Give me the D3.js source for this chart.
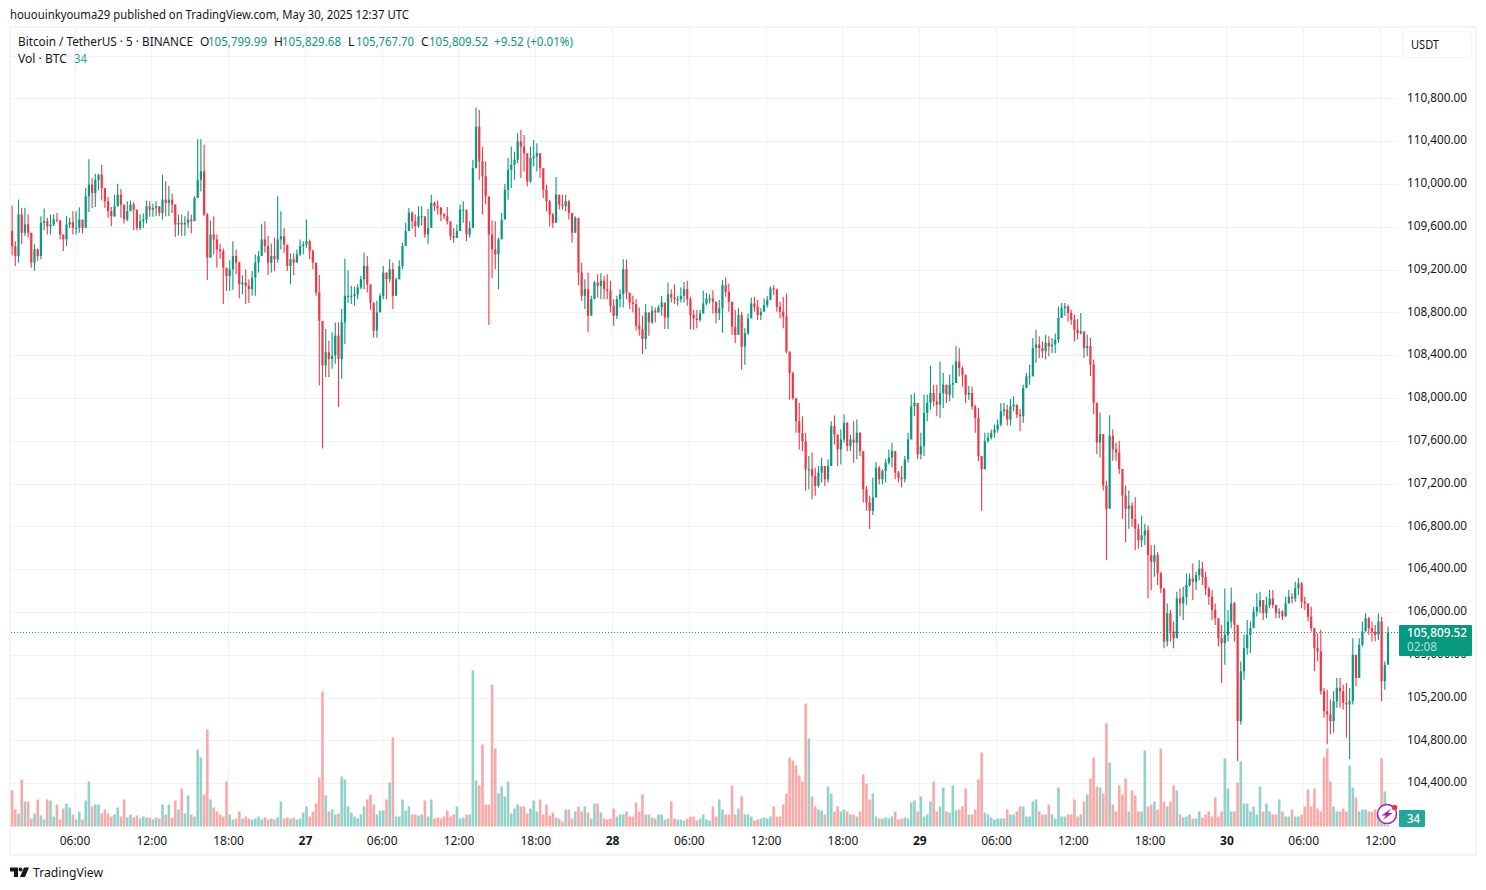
<!DOCTYPE html>
<html><head><meta charset="utf-8">
<script src="https://cdnjs.cloudflare.com/ajax/libs/d3/7.8.5/d3.min.js"></script>
<style>
html,body{margin:0;padding:0;background:#fff;overflow:hidden}
svg{display:block}
text{font-family:"Noto Sans",sans-serif;font-size:12px;fill:#131722}
</style></head><body>
<svg id="c" width="1486" height="890"></svg>
<script>
// 15-minute candles, from 26 May 2025 01:00 UTC. Each line: one 6-hour session.
const startTime = "2025-05-26T01:00:00Z";
const stepMinutes = 15;
const closes = [
109420,109327,109715,109544,109622,109544,109265,109389,109327,109637,109652,109606,109622,109668,109662,109528,109482,109622,109643,109590,
109590,109668,109590,109885,109994,109916,110040,110087,109962,109838,109746,109699,109792,109900,109808,109668,109746,109808,109761,109590,109652,109668,109792,109761,
109777,109792,109730,109854,109823,109854,109808,109622,109637,109622,109637,109668,109652,109870,110040,110118,109715,109312,109528,109482,109389,109373,109218,109141,
109203,109327,109265,109063,109079,109048,109017,109126,109265,109327,109482,109420,109265,109327,109296,109482,109513,109435,109234,109296,109265,109342,109420,109435,
109466,109373,109265,108986,108722,108304,108428,108366,108397,108583,108366,108707,108955,108955,108955,108970,109032,109110,109234,109063,108893,108630,108800,108955,
109172,109110,109203,108955,109110,109234,109420,109560,109730,109652,109606,109699,109699,109528,109590,109823,109792,109777,109715,109699,109652,109513,109497,109560,
109761,109761,109528,109590,110148,110536,110210,110071,109885,109528,109389,109342,109482,109668,109947,110133,110180,110226,110397,110350,110288,110025,110242,110257,
110288,110148,109947,109838,109715,109637,109900,109808,109792,109838,109730,109544,109684,109172,108955,109017,108769,108924,109079,109048,109095,109017,109002,108862,
108769,108924,108970,109203,108986,108893,108878,108676,108645,108552,108800,108707,108816,108800,108847,108893,108754,108970,108940,108924,108924,108955,109017,108924,
108775,108744,108729,108791,108884,108930,108930,108900,108791,108838,109054,108992,108900,108667,108590,108775,108481,108605,108744,108884,108853,108775,108806,108869,
108915,109024,109014,108853,108806,108760,108434,108233,107999,107783,107675,107597,107334,107334,107272,107179,107303,107365,107241,107365,107737,107660,107520,107613,
107768,107551,107613,107582,107675,107504,107148,107024,106946,107070,107349,107241,107319,107396,107443,107504,107303,107257,107241,107427,107613,107923,107954,107474,
107551,107861,107954,108047,107970,107938,108047,108125,108032,108125,108140,108342,108280,108218,108032,108047,107923,107814,107458,107334,107598,107629,107675,107706,
107752,107876,107892,107799,107923,107938,107845,107830,108094,108202,108202,108468,108500,108468,108437,108515,108484,108500,108546,108748,108840,108856,108794,108732,
108639,108608,108623,108468,108484,108313,107957,107585,107663,107182,106965,107647,107523,107492,107337,107089,106965,106996,106872,106779,106670,106717,106763,106531,
106469,106531,106361,106221,105725,105989,105818,105756,106128,106081,106143,106252,106314,106283,106345,106407,106329,106221,106143,106019,105942,105756,105710,105787,
105911,106081,105880,104981,105446,105663,105787,105849,106004,106050,106112,105989,106066,106128,106066,105989,106004,105958,106081,106143,106128,106221,106268,106097,
106081,105957,105849,105663,105632,105260,105074,105043,104981,105167,105291,105260,105151,105136,105167,105601,105384,105694,105818,105942,105849,105818,105787,105911,
105353,105508,105809.52];
const opens = [
109560,109420,109327,109715,109544,109622,109544,109265,109389,109327,109637,109652,109606,109622,109668,109662,109528,109482,109622,109643,
109590,109590,109668,109590,109885,109994,109916,110040,110087,109962,109838,109746,109699,109792,109900,109808,109668,109746,109808,109761,109590,109652,109668,109792,
109761,109777,109792,109730,109854,109823,109854,109808,109622,109637,109622,109637,109668,109652,109870,110040,110118,109715,109312,109528,109482,109389,109373,109218,
109141,109203,109327,109265,109063,109079,109048,109017,109126,109265,109327,109482,109420,109265,109327,109296,109482,109513,109435,109234,109296,109265,109342,109420,
109435,109466,109373,109265,108986,108722,108304,108428,108366,108397,108583,108366,108707,108955,108955,108955,108970,109032,109110,109234,109063,108893,108630,108800,
108955,109172,109110,109203,108955,109110,109234,109420,109560,109730,109652,109606,109699,109699,109528,109590,109823,109792,109777,109715,109699,109652,109513,109497,
109560,109761,109761,109528,109590,110148,110536,110210,110071,109885,109528,109389,109342,109482,109668,109947,110133,110180,110226,110397,110350,110288,110025,110242,
110257,110288,110148,109947,109838,109715,109637,109900,109808,109792,109838,109730,109544,109684,109172,108955,109017,108769,108924,109079,109048,109095,109017,109002,
108862,108769,108924,108970,109203,108986,108893,108878,108676,108645,108552,108800,108707,108816,108800,108847,108893,108754,108970,108940,108924,108924,108955,109017,
108924,108775,108744,108729,108791,108884,108930,108930,108900,108791,108838,109054,108992,108900,108667,108590,108775,108481,108605,108744,108884,108853,108775,108806,
108869,108915,109024,109014,108853,108806,108760,108434,108233,107999,107783,107675,107597,107334,107334,107272,107179,107303,107365,107241,107365,107737,107660,107520,
107613,107768,107551,107613,107582,107675,107504,107148,107024,106946,107070,107349,107241,107319,107396,107443,107504,107303,107257,107241,107427,107613,107923,107954,
107474,107551,107861,107954,108047,107970,107938,108047,108125,108032,108125,108140,108342,108280,108218,108032,108047,107923,107814,107458,107334,107598,107629,107675,
107706,107752,107876,107892,107799,107923,107938,107845,107830,108094,108202,108202,108468,108500,108468,108437,108515,108484,108500,108546,108748,108840,108856,108794,
108732,108639,108608,108623,108468,108484,108313,107957,107585,107663,107182,106965,107647,107523,107492,107337,107089,106965,106996,106872,106779,106670,106717,106763,
106531,106469,106531,106361,106221,105725,105989,105818,105756,106128,106081,106143,106252,106314,106283,106345,106407,106329,106221,106143,106019,105942,105756,105710,
105787,105911,106081,105880,104981,105446,105663,105787,105849,106004,106050,106112,105989,106066,106128,106066,105989,106004,105958,106081,106143,106128,106221,106268,
106097,106081,105957,105849,105663,105632,105260,105074,105043,104981,105167,105291,105260,105151,105136,105167,105601,105384,105694,105818,105942,105849,105818,105787,
105911,105353,105508];
const highs = [
109798,109466,109854,109777,109777,109715,109544,109436,109398,109699,109770,109684,109715,109715,109730,109612,109528,109699,109684,109746,
109742,109783,109606,109962,110232,110056,110096,110096,110180,109953,109879,109786,109900,110003,109953,109715,109838,109845,109829,109668,109715,109724,109845,109838,
109817,109838,109792,110087,110025,109984,109910,109808,109715,109715,109699,109746,109715,109885,110418,110418,110366,109730,109659,109699,109528,109445,109398,109218,
109287,109466,109389,109274,109147,109203,109110,109188,109342,109373,109628,109653,109513,109445,109498,109885,109746,109590,109420,109352,109352,109389,109482,109466,
109668,109482,109389,109265,109150,108397,108645,108536,108614,108707,108707,108831,109302,109194,109048,109042,109063,109141,109358,109327,108955,108862,108909,108977,
109234,109172,109296,109265,109126,109287,109451,109637,109776,109746,109715,109792,109792,109612,109767,109900,109838,109845,109786,109730,109786,109637,109590,109621,
109808,109838,109746,109652,110226,110716,110691,110344,110210,109823,109659,109653,109498,109730,110003,110242,110350,110303,110474,110505,110459,110148,110350,110412,
110381,110273,110102,109994,109854,109730,110065,109900,109900,109900,109854,109653,109699,109575,109265,109110,109172,108955,109095,109156,109166,109141,109156,109095,
108924,108955,109017,109296,109296,108970,108955,108924,108847,108769,108878,108769,108862,108847,108868,108955,108862,109079,109017,109063,108955,109032,109085,109095,
108946,108822,108822,108822,109002,108983,108971,109008,108900,108915,109101,109126,109070,108822,108822,108838,108806,108651,108791,108940,108946,108915,108838,108930,
108952,109045,109055,109024,108900,108946,108977,108434,108248,107970,107954,107830,107675,107458,107489,107349,107365,107443,107365,107427,107784,107836,107613,107706,
107846,107774,107660,107784,107799,107681,107474,107179,107086,107256,107402,107365,107334,107427,107520,107582,107412,107319,107365,107458,107675,108032,108047,107938,
107675,108032,108032,108301,108125,108125,108342,108233,108078,108218,108310,108487,108466,108295,108186,108115,108109,107938,107908,107411,107675,107675,107706,107752,
107799,107954,107954,107938,107991,108016,107938,107898,108124,108233,108310,108561,108639,108577,108530,108592,108577,108561,108602,108856,108887,108887,108872,108825,
108779,108738,108794,108608,108592,108561,108360,107901,107864,107415,107228,107839,107709,107585,107600,107306,107182,107135,107027,107074,106825,106903,106825,106810,
106624,106630,106562,106376,106221,106081,106019,105911,106190,106221,106237,106361,106361,106453,106376,106485,106469,106376,106237,106206,106081,105895,105880,106221,
106019,106227,106097,105874,105539,105787,105927,105911,106050,106175,106190,106066,106143,106206,106206,106066,106035,106019,106143,106206,106175,106283,106320,106283,
106143,106066,106050,105849,105803,105834,105291,105275,105182,105260,105384,105384,105322,105338,105291,105756,105539,105756,105911,105988,105957,105911,105880,105988,
105957,105539,105865];
const lows = [
109333,109234,109265,109436,109513,109498,109218,109188,109281,109296,109569,109528,109528,109606,109643,109482,109373,109420,109590,109528,
109528,109544,109538,109631,109739,109776,109786,109941,109848,109776,109684,109606,109693,109792,109684,109631,109652,109746,109569,109566,109569,109590,109631,109693,
109693,109699,109699,109668,109699,109699,109730,109507,109519,109513,109513,109590,109538,109668,109870,109931,109699,109104,109312,109342,109218,109302,108878,109001,
109001,109011,109156,108933,108970,108878,108887,108955,108955,109172,109373,109358,109150,109172,109188,109265,109389,109358,109188,109063,109147,109296,109327,109342,
109405,109296,109203,108955,108118,107529,108196,108196,108273,108320,107917,108180,108506,108887,108878,108862,108924,109017,109017,108986,108825,108564,108564,108924,
108924,108924,109079,108831,109001,109110,109203,109466,109560,109581,109504,109590,109612,109498,109436,109668,109746,109715,109652,109668,109622,109476,109451,109498,
109590,109637,109466,109498,109590,110148,110040,109715,109808,108682,109119,109203,109017,109513,109730,109854,109962,110040,110195,110056,110118,109978,110009,110164,
110118,110056,109870,109746,109606,109590,109637,109761,109761,109746,109668,109451,109544,109054,108909,108831,108614,108800,108924,108940,108924,108924,108924,108800,
108676,108738,108847,108847,108924,108831,108800,108630,108583,108412,108459,108583,108691,108707,108800,108769,108645,108645,108893,108878,108862,108893,108893,108862,
108642,108636,108651,108714,108791,108868,108884,108791,108698,108729,108611,108946,108806,108590,108512,108651,108264,108310,108590,108791,108806,108729,108729,108806,
108847,108946,108962,108806,108744,108651,108419,107985,107985,107675,107520,107505,107133,107148,107055,107086,107164,107210,107179,107210,107380,107566,107365,107380,
107582,107505,107505,107396,107427,107458,107024,106946,106776,106906,107101,107194,107194,107210,107380,107350,107241,107210,107164,107210,107396,107644,107830,107427,
107427,107458,107784,107892,107923,107830,107814,107908,107954,107970,108000,108171,108202,108109,107954,107985,107892,107675,107411,106946,107505,107582,107613,107629,
107675,107737,107830,107743,107743,107876,107814,107690,107768,108109,108124,108205,108329,108375,108375,108360,108391,108422,108422,108515,108748,108769,108716,108686,
108530,108546,108592,108375,108391,108205,107849,107477,107445,107135,106484,107135,107415,107415,107291,106872,106655,106779,106795,106578,106593,106609,106624,106128,
106206,106329,106252,106175,105663,105678,105725,105663,105911,105958,105927,106066,106236,106112,106206,106298,106252,106159,106066,105927,105880,105678,105337,105508,
105725,105849,105725,104609,104950,105368,105601,105617,105911,105958,105988,105927,105942,106035,106035,105942,105942,105927,105958,106081,106081,106097,106159,106035,
106019,105911,105818,105446,105539,105229,105012,104764,104857,104873,105105,105105,105090,104826,104624,105136,105306,105384,105678,105849,105787,105725,105725,105740,
105167,105273,105523];
const volumes = [
720,340,260,940,500,500,160,260,540,220,140,540,520,200,440,140,360,460,380,240,
140,300,140,520,900,400,440,440,260,340,260,200,240,380,200,540,180,240,180,220,160,200,180,180,
140,180,160,440,240,440,180,520,340,760,260,620,240,200,1540,1380,640,1940,540,380,300,240,200,900,
240,140,160,300,160,200,160,140,160,200,140,180,140,160,140,180,500,160,180,160,180,140,160,280,
400,200,300,460,980,2700,620,300,340,240,260,1000,940,400,280,200,160,240,400,540,640,440,240,320,
320,540,880,1780,200,200,540,320,400,240,240,220,240,520,200,540,160,180,160,200,320,200,240,400,
160,180,240,240,3120,920,820,1640,440,440,2840,1560,660,800,600,900,260,360,440,400,400,260,360,520,
300,540,240,440,220,280,180,160,100,340,340,160,300,400,300,400,280,160,460,460,280,160,140,160,
360,200,240,240,300,200,200,480,300,640,240,240,180,160,240,240,140,160,500,160,140,140,120,160,
200,200,120,160,240,140,120,400,200,540,340,240,240,820,240,360,600,240,240,200,120,140,160,180,
160,200,400,200,200,440,660,1380,1320,1220,1020,900,2460,1760,600,400,340,320,240,800,660,300,400,300,
340,300,240,240,200,300,1040,860,540,660,200,160,160,180,160,200,300,140,160,180,160,480,520,300,
600,200,240,500,900,300,400,780,300,280,820,320,340,400,760,240,240,340,940,1480,280,240,180,140,
160,160,160,340,240,240,300,400,400,200,200,500,540,300,240,240,440,240,160,780,200,200,240,240,
540,200,240,500,640,960,1380,800,780,660,2060,1280,440,300,820,640,960,300,720,620,300,300,1520,400,
440,500,340,1560,500,400,500,820,720,240,180,200,240,160,160,300,180,240,300,200,580,200,300,1360,
760,300,300,880,1300,460,460,300,400,240,800,300,460,300,240,240,540,300,200,200,340,200,200,240,
400,740,400,760,360,300,1380,1560,900,400,300,300,360,300,1220,780,580,300,340,340,300,300,340,300,
1360,700,34];
const priceTicks = [110800,110400,110000,109600,109200,108800,108400,108000,107600,107200,106800,106400,106000,105600,105200,104800,104400];
const gridPrices = [111200].concat(priceTicks);
const timeTicks = ["2025-05-26T06:00Z","2025-05-26T12:00Z","2025-05-26T18:00Z","2025-05-27T00:00Z","2025-05-27T06:00Z","2025-05-27T12:00Z","2025-05-27T18:00Z","2025-05-28T00:00Z","2025-05-28T06:00Z","2025-05-28T12:00Z","2025-05-28T18:00Z","2025-05-29T00:00Z","2025-05-29T06:00Z","2025-05-29T12:00Z","2025-05-29T18:00Z","2025-05-30T00:00Z","2025-05-30T06:00Z","2025-05-30T12:00Z"];
const timeLabels = ["06:00","12:00","18:00","27","06:00","12:00","18:00","28","06:00","12:00","18:00","29","06:00","12:00","18:00","30","06:00","12:00"];
const lastPrice = 105809.52;

const UP="#089981",DOWN="#F23645",VUP="#92d2c9",VDOWN="#f9a9a7",GRID="#f1f2f5",TXT="#131722";
const svg=d3.select("#c");
const t0=new Date(startTime).getTime();
const data=closes.map((c,i)=>({t:new Date(t0+(i+.5)*stepMinutes*60000),o:opens[i],h:highs[i],l:lows[i],c,v:volumes[i]}));
const tickDates=timeTicks.map(s=>new Date(s));
const x=d3.scaleUtc().domain([tickDates[0],tickDates[tickDates.length-1]]).range([74.5,1380]);
const y=d3.scaleLinear().domain([110400,104400]).range([141.2,783.3]);
const yV=d3.scaleLinear().domain([0,3120]).range([826.5,670.5]);

// frame and grid
svg.append("rect").attr("x",10).attr("y",27).attr("width",1466).attr("height",828).attr("fill","none").attr("stroke","#f0f3fa").attr("stroke-width",1.6);
const g=svg.append("g").attr("shape-rendering","crispEdges");
g.selectAll(".h").data(gridPrices).join("line").attr("x1",11).attr("x2",1398).attr("y1",d=>Math.round(y(d))+.5).attr("y2",d=>Math.round(y(d))+.5).attr("stroke",GRID);
g.selectAll(".v").data(tickDates).join("line").attr("y1",28).attr("y2",827).attr("x1",d=>Math.round(x(d))+.5).attr("x2",d=>Math.round(x(d))+.5).attr("stroke",GRID);

// volume
svg.append("g").selectAll("rect").data(data).join("rect")
 .attr("x",d=>x(d.t)-1.3).attr("width",2.6).attr("y",d=>yV(d.v)).attr("height",d=>yV(0)-yV(d.v))
 .attr("fill",d=>d.c>=d.o?VUP:VDOWN);

// last price line
svg.append("line").attr("x1",11).attr("x2",1398).attr("y1",y(lastPrice)).attr("y2",y(lastPrice))
 .attr("stroke",UP).attr("stroke-width",1).attr("stroke-dasharray","1 2");

// candles
const cg=svg.append("g");
cg.selectAll("line").data(data).join("line")
 .attr("x1",d=>x(d.t)).attr("x2",d=>x(d.t)).attr("y1",d=>y(d.h)).attr("y2",d=>y(d.l))
 .attr("stroke",d=>d.c>=d.o?UP:DOWN).attr("stroke-width",1.1);
cg.selectAll("rect").data(data).join("rect")
 .attr("x",d=>x(d.t)-1.1).attr("width",2.2)
 .attr("y",d=>y(Math.max(d.o,d.c))).attr("height",d=>Math.max(1,Math.abs(y(d.o)-y(d.c))))
 .attr("fill",d=>d.c>=d.o?UP:DOWN);

// axes
const ya=svg.append("g").attr("transform","translate(1407,-1.2)")
 .call(d3.axisRight(y).tickValues(priceTicks).tickFormat(d3.format(",.2f")).tickSize(0).tickPadding(0));
ya.select(".domain").remove();
ya.selectAll("text").style("font-family",'"Noto Sans",sans-serif').style("font-size","12px").attr("fill","#1e222d").attr("textLength",60).attr("lengthAdjust","spacingAndGlyphs");
const xa=svg.append("g").attr("transform","translate(0,836.5)")
 .call(d3.axisBottom(x).tickValues(tickDates).tickFormat((d,i)=>timeLabels[i]).tickSize(0).tickPadding(0));
xa.select(".domain").remove();
xa.selectAll("text").style("font-family",'"Noto Sans",sans-serif').style("font-size","12px").attr("fill","#2a2e39")
 .style("font-weight",(d,i)=>timeLabels[i].length<3?"700":"400");

// texts helper
function T(tx,ty,s,o={}){return svg.append("text").attr("x",tx).attr("y",ty).text(s).attr("fill",o.c||TXT).style("fill",o.c||TXT)
  .style("font-weight",o.w||400).style("font-size",(o.s||12)+"px").attr("textLength",o.l||null).attr("lengthAdjust","spacingAndGlyphs");}
T(10,19,"hououinkyouma29 published on TradingView.com, May 30, 2025 12:37 UTC",{l:399});
T(18,46,"Bitcoin / TetherUS · 5 · BINANCE",{l:175});
T(200,46,"O");T(208,46,"105,799.99",{c:UP,l:59});
T(274,46,"H");T(282,46,"105,829.68",{c:UP,l:59});
T(348,46,"L");T(356,46,"105,767.70",{c:UP,l:58});
T(421,46,"C");T(429,46,"105,809.52",{c:UP,l:59});
T(494,46,"+9.52 (+0.01%)",{c:UP,l:79});
T(18,63,"Vol · BTC",{l:49});
T(74,63,"34",{c:"#26a69a",l:13});

// USDT button
svg.append("rect").attr("x",1402.5).attr("y",31.5).attr("width",69).attr("height",26).attr("rx",4).attr("fill","#fff").attr("stroke","#f0f3fa");
T(1411,49,"USDT",{l:28});

// price tag
svg.append("rect").attr("x",1399).attr("y",625).attr("width",73).attr("height",31).attr("rx",1).attr("fill",UP);
T(1407,637,"105,809.52",{c:"#fff",l:60,w:500});
T(1407,651,"02:08",{c:"#b5e0d9",l:30});

// volume tag
svg.append("rect").attr("x",1399).attr("y",810).attr("width",26).attr("height",17).attr("rx",1).attr("fill","#26a69a");
T(1407,823,"34",{c:"#fff",l:13,w:500});

// badge
svg.append("circle").attr("cx",1387).attr("cy",814).attr("r",9.5).attr("fill","#fff").attr("stroke","#9c27b0").attr("stroke-width",1.6);
svg.append("path").attr("d","M1391 808.5 L1381.5 815.5 L1386 815.5 L1383 820 L1392.5 813 L1388 813 Z").attr("fill","#9c27b0");
svg.append("circle").attr("cx",1394.5).attr("cy",807.5).attr("r",2.8).attr("fill","#F23645");

// logo
svg.append("path").attr("d","M10 867.5 H18 V877 H14 V871.5 H10 Z M24 867.5 H29 L25 877 H20 Z").attr("fill","#131722");
svg.append("circle").attr("cx",20.5).attr("cy",869.5).attr("r",2).attr("fill","#131722");
T(33,877,"TradingView",{s:13,l:70});
</script></body></html>
